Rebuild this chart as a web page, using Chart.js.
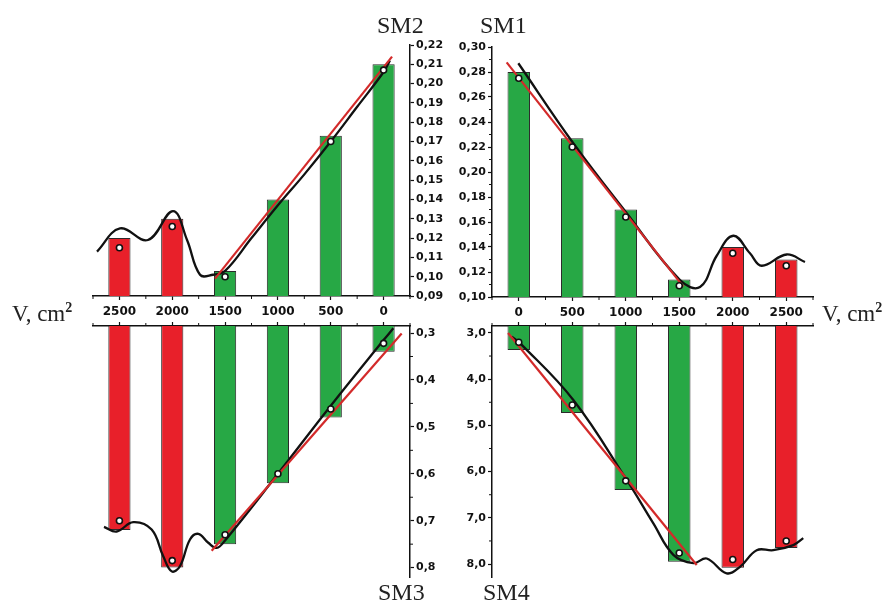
<!DOCTYPE html>
<html>
<head>
<meta charset="utf-8">
<script src="https://cdn.jsdelivr.net/npm/chart.js@4.4.1/dist/chart.umd.min.js"></script>
<style>
  html, body { margin: 0; background: #fff; }
  #wrap { position: relative; width: 893px; height: 602px; overflow: hidden; }
  #wrap canvas { position: absolute; left: 0; top: 0; }
  .lbl { position: absolute; font-family: "Liberation Serif", "Times New Roman", serif; color: #222; line-height: 1; white-space: nowrap; }
  .sm { font-size: 24px; }
  .vlab { font-size: 23px; }
  .vlab sup { font-size: 14px; font-weight: bold; vertical-align: 9px; }
</style>
</head>
<body>
<div id="wrap">
  <canvas id="sm2" width="893" height="602"></canvas>
  <canvas id="sm1" width="893" height="602"></canvas>
  <canvas id="sm3" width="893" height="602"></canvas>
  <canvas id="sm4" width="893" height="602"></canvas>
  <div class="lbl sm" style="left:377px;top:13px">SM2</div>
  <div class="lbl sm" style="left:480px;top:13px">SM1</div>
  <div class="lbl sm" style="left:378px;top:580px">SM3</div>
  <div class="lbl sm" style="left:483px;top:580px">SM4</div>
  <div class="lbl vlab" style="left:12px;top:301px">V, cm<sup>2</sup></div>
  <div class="lbl vlab" style="left:822px;top:301px">V, cm<sup>2</sup></div>
</div>
<script>
// categories (V, cm2) - left panels run right-to-left
const leftCats = ["2500", "2000", "1500", "1000", "500", "0"];
const rightCats = ["0", "500", "1000", "1500", "2000", "2500"];

// SM2 (top left)
const sm2Bars = [0.120, 0.130, 0.103, 0.140, 0.173, 0.210];
const sm2Points = [0.115, 0.126, 0.100, null, 0.170, 0.207];
const sm2CurveV = [2712, 2495, 2230, 1993, 1860, 1737, 1614, 1500, 1250, 1000, 750, 500, 250, 0, -60];
const sm2CurveY = [0.113, 0.125, 0.119, 0.134, 0.119, 0.101, 0.101, 0.103, 0.120, 0.137, 0.153, 0.170, 0.188, 0.206, 0.212];
const sm2FitV = [1595, -80];
const sm2FitY = [0.099, 0.214];

// SM1 (top right)
const sm1Bars = [0.280, 0.227, 0.170, 0.114, 0.140, 0.130];
const sm1Points = [0.275, 0.220, 0.164, 0.109, 0.135, 0.125];
const sm1CurveV = [-4, 510, 1009, 1507, 1694, 1850, 2005, 2161, 2270, 2504, 2675];
const sm1CurveY = [0.287, 0.223, 0.167, 0.1136, 0.108, 0.133, 0.149, 0.135, 0.125, 0.134, 0.128];
const sm1FitV = [-113, 1538];
const sm1FitY = [0.2877, 0.1083];

// SM3 (bottom left)
const sm3Bars = [0.72, 0.80, 0.75, 0.62, 0.48, 0.34];
const sm3Points = [0.70, 0.785, 0.73, 0.60, 0.462, 0.322];
const sm3CurveV = [2646, 2526, 2369, 2195, 2085, 2005, 1927, 1832, 1753, 1659, 1580, 1500, 1000, 500, 0, -92];
const sm3CurveY = [0.713, 0.723, 0.703, 0.719, 0.776, 0.808, 0.797, 0.740, 0.728, 0.747, 0.758, 0.742, 0.600, 0.455, 0.315, 0.290];
const sm3FitV = [1627, -171];
const sm3FitY = [0.764, 0.301];

// SM4 (bottom right)
const sm4Bars = [3.37, 4.73, 6.40, 7.95, 8.08, 7.65];
const sm4Points = [3.2, 4.56, 6.2, 7.76, 7.9, 7.5];
const sm4CurveV = [-66, 12, 510, 1009, 1258, 1445, 1632, 1757, 1943, 2068, 2224, 2379, 2566, 2659];
const sm4CurveY = [3.08, 3.22, 4.45, 6.18, 7.12, 7.80, 7.98, 7.88, 8.20, 8.06, 7.70, 7.70, 7.59, 7.44];
const sm4FitV = [-100, 1663];
const sm4FitY = [3.0, 8.02];

const PAGE_W = 893, PAGE_H = 602;
const AXIS_W = 44;
const RED = "#e8202a";
const GREEN = "#27a845";
const INK = "#111";

// small extra ticks: half-steps on the value axis, category borders on the V axis
const minorTicks = {
    id: "minorTicks",
    afterDraw(chart, args, opts) {
        const { ctx } = chart;
        const x = chart.scales.x, y = chart.scales.y;
        ctx.save();
        ctx.strokeStyle = INK;
        ctx.lineWidth = 1;
        ctx.beginPath();
        if (opts.yMinor) {
            const dir = y.position === "right" ? 1 : -1;
            const x0 = y.position === "right" ? y.left : y.right;
            for (let i = 1; i < y.ticks.length; i++) {
                const py = y.getPixelForValue((y.ticks[i - 1].value + y.ticks[i].value) / 2);
                ctx.moveTo(x0, py);
                ctx.lineTo(x0 + dir * 3, py);
            }
        }
        const n = x.ticks.length;
        const step = (x.right - x.left) / n;
        const dir = x.position === "bottom" ? 1 : -1;
        const y0 = x.position === "bottom" ? x.top : x.bottom;
        for (let i = 0; i <= n; i++) {
            const px = x.left + i * step;
            ctx.moveTo(px, y0);
            ctx.lineTo(px, y0 + dir * 3);
        }
        ctx.stroke();
        ctx.restore();
    },
};

function toXY(vs, ys) {
    return vs.map((v, i) => ({ x: v, y: ys[i] }));
}

function makePanel(id, p) {
    const leftSide = p.side === "left";
    const topRow = p.row === "top";
    const xH = topRow ? 30 : 6;
    const [aL, aR, aT, aB] = p.area;
    const padding = {
        left: leftSide ? aL : aL - AXIS_W,
        right: leftSide ? PAGE_W - aR - AXIS_W : PAGE_W - aR,
        top: topRow ? aT : aT - xH,
        bottom: topRow ? PAGE_H - aB - xH : PAGE_H - aB,
    };

    return new Chart(document.getElementById(id), {
        type: "bar",
        data: {
            labels: p.cats,
            datasets: [
                {
                    type: "line", data: p.points, xAxisID: "x", showLine: false,
                    pointRadius: 3, pointBorderWidth: 1.6, pointBorderColor: INK, pointBackgroundColor: "#fff", order: 0,
                },
                {
                    type: "line", data: toXY(p.fitV, p.fitY), xAxisID: "xl",
                    borderColor: "#d32a2a", borderWidth: 2.2, pointRadius: 0, tension: 0, order: 1,
                },
                {
                    type: "line", data: toXY(p.curveV, p.curveY), xAxisID: "xl",
                    borderColor: INK, borderWidth: 2.3, pointRadius: 0, tension: 0.4, order: 2,
                },
                {
                    type: "bar", data: p.bars, xAxisID: "x", grouped: false,
                    backgroundColor: p.cats.map(c => Number(c) >= 2000 ? RED : GREEN),
                    borderColor: "#2a2a2a", borderWidth: 1,
                    barPercentage: 0.42, categoryPercentage: 1, order: 3,
                },
            ],
        },
        options: {
            responsive: false,
            animation: false,
            layout: { padding },
            plugins: { legend: { display: false }, tooltip: { enabled: false }, minorTicks: { yMinor: p.yMinor } },
            scales: {
                x: {
                    type: "category", position: topRow ? "bottom" : "top", offset: true,
                    border: { color: INK, width: 1.5 },
                    grid: { offset: false, drawOnChartArea: false, tickLength: 4, tickColor: INK, tickWidth: 1.2 },
                    ticks: {
                        display: topRow, padding: 5, color: INK, maxRotation: 0, autoSkip: false,
                        font: { family: "DejaVu Sans", size: 12, weight: "bold" },
                    },
                    afterFit: s => { s.height = xH; },
                },
                xl: {
                    type: "linear", display: false, offset: false, grid: { offset: false },
                    min: -250, max: 2750, reverse: leftSide,
                },
                y: {
                    type: "linear", position: leftSide ? "right" : "left",
                    min: p.yMin, max: p.yMax, reverse: !topRow,
                    border: { color: INK, width: 1.5 },
                    grid: { drawOnChartArea: false, tickLength: 4, tickColor: INK, tickWidth: 1.2 },
                    ticks: {
                        stepSize: p.yStep, autoSkip: false, includeBounds: false, padding: 2, color: INK,
                        font: { family: "DejaVu Sans", size: 11, weight: "bold" },
                        callback: v => Number(v).toFixed(p.dec).replace(".", ","),
                    },
                    afterFit: s => { s.width = AXIS_W; },
                },
            },
        },
        plugins: [minorTicks],
    });
}

makePanel("sm2", {
    side: "left", row: "top", area: [93, 410, 45, 296], cats: leftCats,
    bars: sm2Bars, points: sm2Points, curveV: sm2CurveV, curveY: sm2CurveY, fitV: sm2FitV, fitY: sm2FitY,
    yMin: 0.09, yMax: 0.22, yStep: 0.01, dec: 2, yMinor: false,
});
makePanel("sm1", {
    side: "right", row: "top", area: [492, 813, 47, 297], cats: rightCats,
    bars: sm1Bars, points: sm1Points, curveV: sm1CurveV, curveY: sm1CurveY, fitV: sm1FitV, fitY: sm1FitY,
    yMin: 0.10, yMax: 0.30, yStep: 0.02, dec: 2, yMinor: true,
});
makePanel("sm3", {
    side: "left", row: "bottom", area: [93, 410, 326, 577], cats: leftCats,
    bars: sm3Bars, points: sm3Points, curveV: sm3CurveV, curveY: sm3CurveY, fitV: sm3FitV, fitY: sm3FitY,
    yMin: 0.285, yMax: 0.82, yStep: 0.1, dec: 1, yMinor: true,
});
makePanel("sm4", {
    side: "right", row: "bottom", area: [492, 813, 326, 577], cats: rightCats,
    bars: sm4Bars, points: sm4Points, curveV: sm4CurveV, curveY: sm4CurveY, fitV: sm4FitV, fitY: sm4FitY,
    yMin: 2.85, yMax: 8.28, yStep: 1, dec: 1, yMinor: true,
});
</script>
</body>
</html>
